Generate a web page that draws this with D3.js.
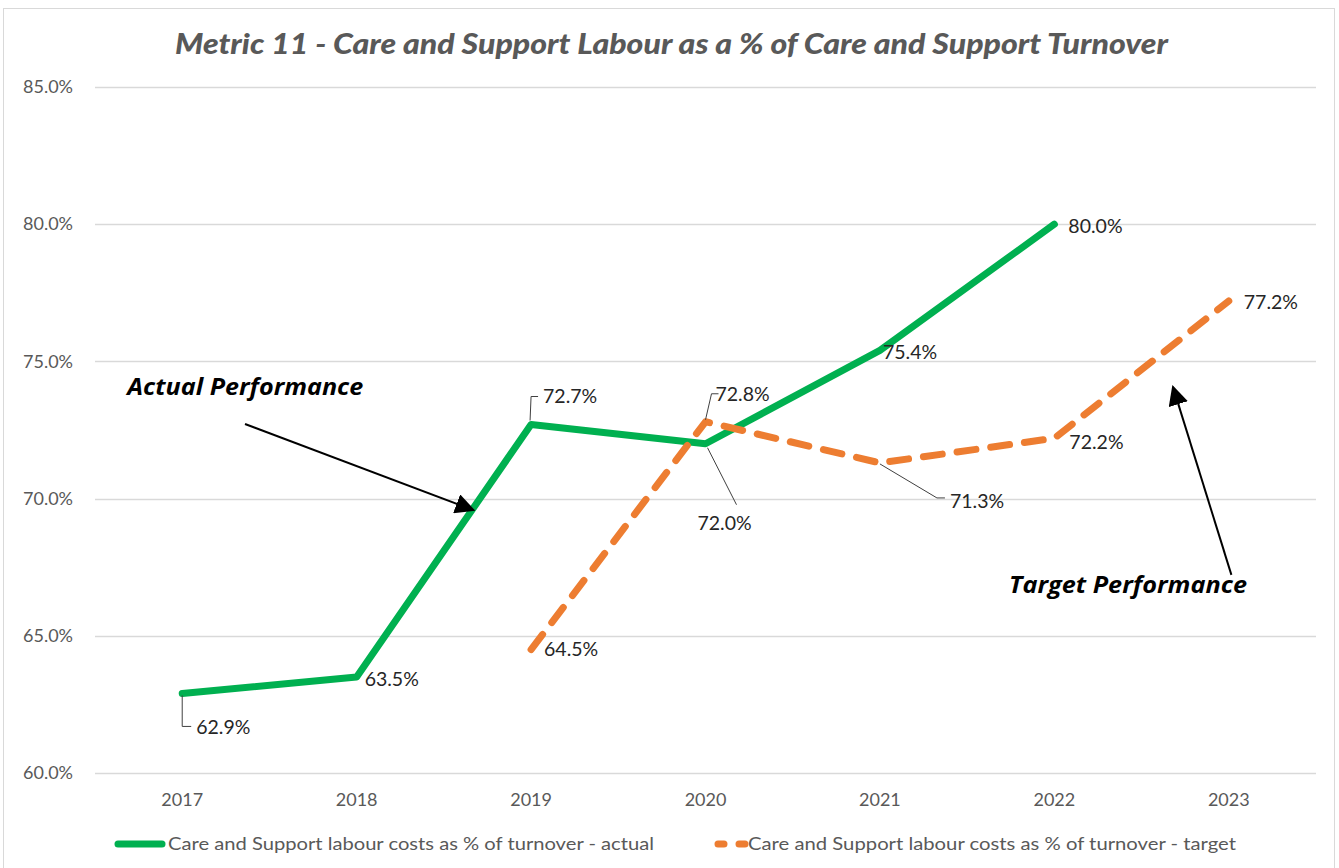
<!DOCTYPE html>
<html><head><meta charset="utf-8">
<script src="https://cdn.jsdelivr.net/npm/d3@7"></script>
<style>body{margin:0;background:#fff}svg{display:block}</style>
</head><body>
<svg id="c" width="1339" height="868"></svg>
<script>
const categories = ["2017","2018","2019","2020","2021","2022","2023"];
const actualValues = [62.9, 63.5, 72.7, 72.0, 75.4, 80.0, null];
const targetValues = [null, null, 64.5, 72.8, 71.3, 72.2, 77.2];
const yTicks = [60, 65, 70, 75, 80, 85];
const titleText = "Metric 11 - Care and Support Labour as a % of Care and Support Turnover";
const legendLabels = ["Care and Support labour costs as % of turnover - actual",
                      "Care and Support labour costs as % of turnover - target"];

// label placement (pixel offsets from the point; style only)
const actualLabelOffsets = [
  {dx:14, dy:34, leader:[[0,2],[0,33],[9,33]]},
  {dx:8, dy:2},
  {dx:12, dy:-28, leader:[[-1,-4],[0,-28],[7,-28]]},
  {dx:-8, dy:79, leader:[[2,4],[31,61]]},
  {dx:3, dy:2},
  {dx:14, dy:2}
];
const targetLabelOffsets = [
  null, null,
  {dx:13, dy:0},
  {dx:10, dy:-28, leader:[[0,-2],[6,-28],[13,-28]]},
  {dx:70, dy:38, leader:[[0,1],[57,35],[65,35]]},
  {dx:15, dy:4},
  {dx:15, dy:1}
];

const svg = d3.select("#c");
const W = 1339, H = 868;
const margin = {left:95, right:23, top:87, bottom:95};
const axisFont = "Lato,'Open Sans',sans-serif";

svg.append("rect").attr("x",3.5).attr("y",8.5).attr("width",1331).attr("height",880)
  .attr("fill","#fff").attr("stroke","#d9d9d9").attr("stroke-width",1);

const x = d3.scaleBand().domain(categories).range([margin.left, W - margin.right]);
const xc = c => x(c) + x.bandwidth()/2;
const xi = i => xc(categories[0]) + i * x.step();
const y = d3.scaleLinear().domain([60, 85]).range([H - margin.bottom, margin.top]);

// gridlines
svg.append("g").selectAll("line").data(yTicks).join("line")
  .attr("x1", margin.left).attr("x2", W - margin.right)
  .attr("y1", d => Math.round(y(d))+0.5).attr("y2", d => Math.round(y(d))+0.5)
  .attr("stroke","#d9d9d9").attr("stroke-width",1.3);

// y axis
const yAxis = svg.append("g").attr("transform",`translate(${margin.left},0)`)
  .call(d3.axisLeft(y).tickValues(yTicks).tickSize(0).tickPadding(22).tickFormat(d => d.toFixed(1) + "%"));
yAxis.select(".domain").remove();
yAxis.selectAll("text").attr("font-family",axisFont).attr("font-size",18).attr("fill","#595959");

// x axis
const xAxis = svg.append("g").attr("transform",`translate(0,${H - margin.bottom})`)
  .call(d3.axisBottom(x).tickSize(0).tickPadding(20));
xAxis.select(".domain").remove();
xAxis.selectAll("text").attr("font-family",axisFont).attr("font-size",18).attr("fill","#595959");

// title
svg.append("text").attr("x", 175).attr("y", 54)
  .attr("font-family","Lato,'Liberation Sans',sans-serif").attr("font-style","italic").attr("font-weight",900)
  .attr("font-size",29).attr("fill","#595959")
  .attr("textLength",993).attr("lengthAdjust","spacingAndGlyphs").text(titleText);

// lines
const line = d3.line().defined(d => d.v != null).x(d => xc(d.c)).y(d => y(d.v));
const actualData = categories.map((c,i) => ({c, v: actualValues[i]}));
const targetData = categories.map((c,i) => ({c, v: targetValues[i]}));

svg.append("path").datum(actualData).attr("d", line).attr("fill","none")
  .attr("stroke","#00B050").attr("stroke-width",7).attr("stroke-linejoin","round").attr("stroke-linecap","round");
svg.append("path").datum(targetData).attr("d", line).attr("fill","none")
  .attr("stroke","#ED7D31").attr("stroke-width",7).attr("stroke-linejoin","round").attr("stroke-linecap","round")
  .attr("stroke-dasharray","19 15");

// data labels
function drawLabels(data, offsets) {
  const g = svg.append("g");
  data.forEach((d,i) => {
    if (d.v == null || !offsets[i]) return;
    const px = xc(d.c), py = y(d.v), o = offsets[i];
    if (o.leader) {
      const pts = o.leader.map(p => [px + p[0], py + p[1]]);
      g.append("path").attr("d", d3.line()(pts)).attr("fill","none")
        .attr("stroke","#404040").attr("stroke-width",1);
    }
    g.append("text").attr("x", px + o.dx).attr("y", py + o.dy).attr("dy","0.35em")
      .attr("font-family","Lato,'Open Sans',sans-serif").attr("font-size",19.5).attr("fill","#262626")
      .text(d.v.toFixed(1) + "%");
  });
}
drawLabels(actualData, actualLabelOffsets);
drawLabels(targetData, targetLabelOffsets);

// annotations (in chart units: category index, value)
const annotations = [
  {text:"Actual Performance", tx:-0.315, tv:73.78, len:236, from:[0.36,72.72], to:[1.67,69.58]},
  {text:"Target Performance", tx:4.74, tv:66.56, len:238, from:[6.015,67.22], to:[5.68,74.07]}
];
const defs = svg.append("defs");
defs.append("marker").attr("id","arr").attr("viewBox","0 0 10 10").attr("refX",9).attr("refY",5)
  .attr("markerWidth",20).attr("markerHeight",20).attr("markerUnits","userSpaceOnUse")
  .attr("orient","auto").append("path").attr("d","M0,0 L10,5 L0,10 z").attr("fill","#000");
annotations.forEach(a => {
  svg.append("text").attr("x", xi(a.tx)).attr("y", y(a.tv))
    .attr("font-family","'Open Sans',Lato,sans-serif").attr("font-weight","bold").attr("font-style","italic")
    .attr("font-size",23).attr("fill","#000")
    .attr("textLength",a.len).attr("lengthAdjust","spacingAndGlyphs").text(a.text);
  svg.append("line").attr("x1", xi(a.from[0])).attr("y1", y(a.from[1]))
    .attr("x2", xi(a.to[0])).attr("y2", y(a.to[1]))
    .attr("stroke","#000").attr("stroke-width",2).attr("marker-end","url(#arr)");
});

// legend
const lg = svg.append("g");
const legY = 844;
lg.append("line").attr("x1",118).attr("x2",162).attr("y1",legY).attr("y2",legY)
  .attr("stroke","#00B050").attr("stroke-width",7).attr("stroke-linecap","round");
lg.append("text").attr("x",168).attr("y",legY).attr("dy","0.35em")
  .attr("font-family",axisFont).attr("font-size",18)
  .attr("fill","#595959").attr("textLength",486).attr("lengthAdjust","spacingAndGlyphs").text(legendLabels[0]);
lg.append("line").attr("x1",718).attr("x2",745).attr("y1",legY).attr("y2",legY)
  .attr("stroke","#ED7D31").attr("stroke-width",7).attr("stroke-linecap","round").attr("stroke-dasharray","6 15");
lg.append("text").attr("x",748).attr("y",legY).attr("dy","0.35em")
  .attr("font-family",axisFont).attr("font-size",18)
  .attr("fill","#595959").attr("textLength",488).attr("lengthAdjust","spacingAndGlyphs").text(legendLabels[1]);
</script>
</body></html>
